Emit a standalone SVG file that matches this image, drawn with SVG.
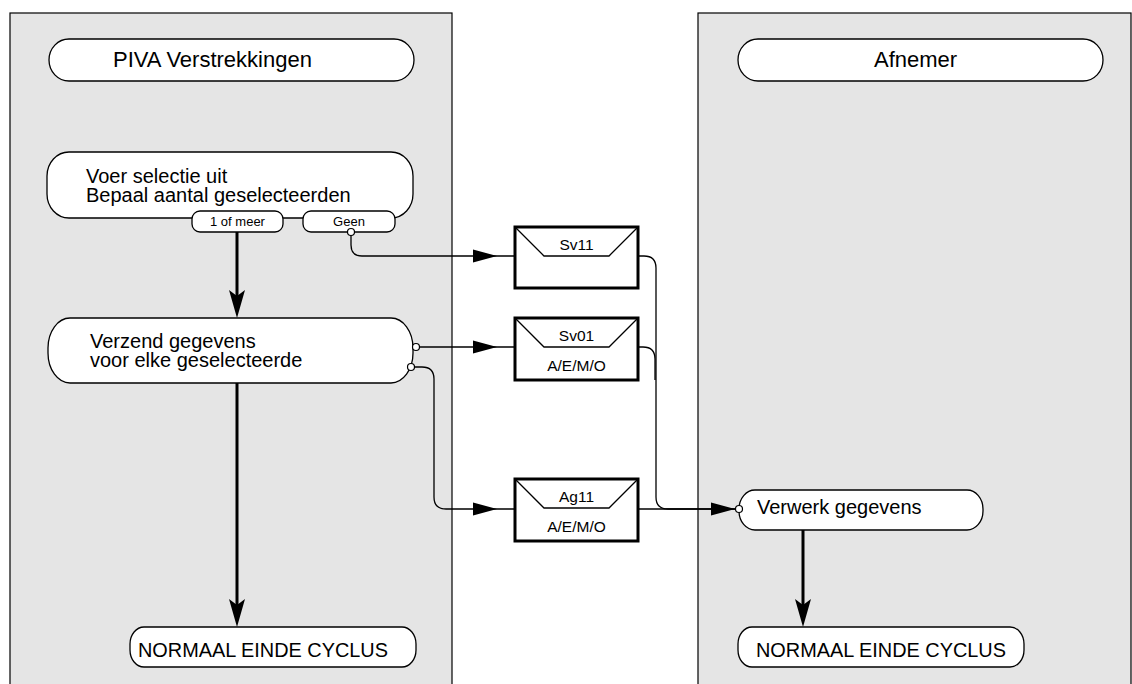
<svg xmlns="http://www.w3.org/2000/svg" xmlns:xlink="http://www.w3.org/1999/xlink" width="1132" height="684" viewBox="0 0 1132 684">
<style>
text{font-family:"Liberation Sans",Arial,sans-serif;fill:#000}
.lane{fill:#e5e5e5;stroke:#000;stroke-width:1.2}
.node{fill:#fff;stroke:#000;stroke-width:1.3}
.env{fill:#fff;stroke:#000;stroke-width:3}
.flap{fill:none;stroke:#000;stroke-width:1.3}
.msg{fill:none;stroke:#000;stroke-width:1.3}
.flow{fill:none;stroke:#000;stroke-width:3}
.port{fill:#fff;stroke:#000;stroke-width:1.2}
.t22{font-size:22px}
.t20{font-size:20px}
.t15{font-size:15.5px}
.t13{font-size:13px}
</style>
<defs>
<path id="ahR" d="M0,0 L-24,-6.5 L-24,6.5 Z" fill="#000"/>
<path id="ahD" d="M0,0 L-8,-28 L0,-22 L8,-28 Z" fill="#000"/>
</defs>
<rect class="lane" x="10" y="13" width="442" height="680"/>
<rect class="lane" x="698" y="13" width="433" height="680"/>

<g id="connectors">
<path class="flow" d="M237,232 V300"/>
<use href="#ahD" xlink:href="#ahD" x="237" y="318"/>
<path class="flow" d="M237,383 V610"/>
<use href="#ahD" xlink:href="#ahD" x="237" y="627"/>
<path class="flow" d="M803,530 V610"/>
<use href="#ahD" xlink:href="#ahD" x="803" y="627"/>
<path class="msg" d="M351,235 V245 Q351,256 362,256 H514"/>
<use href="#ahR" xlink:href="#ahR" x="497" y="256"/>
<path class="msg" d="M416,347 H514"/>
<use href="#ahR" xlink:href="#ahR" x="497" y="347"/>
<path class="msg" d="M411,367 H422 Q434,367 434,379 V497 Q434,509 446,509 H515"/>
<use href="#ahR" xlink:href="#ahR" x="497" y="509"/>
<path class="msg" d="M639,256 H644 Q656,256 656,268 V497 Q656,509 668,509 H735"/>
<path class="msg" d="M639,347 H643 Q655,347 655,359 V380"/>
<path class="msg" d="M638,509 H735"/>
<use href="#ahR" xlink:href="#ahR" x="735" y="509"/>
</g>

<g id="hdr-piva">
<rect class="node" x="49" y="39" width="365" height="42" rx="20" ry="21"/>
<text class="t22" x="113" y="67">PIVA Verstrekkingen</text>
</g>
<g id="hdr-afnemer">
<rect class="node" x="738" y="39" width="365" height="42" rx="20" ry="21"/>
<text class="t22" x="874" y="67">Afnemer</text>
</g>

<g id="n-selectie">
<rect class="node" x="47" y="152" width="366" height="66" rx="22" ry="24"/>
<text class="t20" x="86" y="183">Voer selectie uit</text>
<text class="t20" x="86" y="202">Bepaal aantal geselecteerden</text>
<rect class="node" x="192" y="211" width="91" height="21" rx="8"/>
<text class="t13" x="237.5" y="226" text-anchor="middle">1 of meer</text>
<rect class="node" x="303" y="211" width="92" height="21" rx="8"/>
<text class="t13" x="349" y="226" text-anchor="middle">Geen</text>
<circle class="port" cx="351" cy="232" r="3.5"/>
</g>

<g id="n-verzend">
<rect class="node" x="48" y="318" width="365" height="65" rx="22" ry="30"/>
<text class="t20" x="90" y="348">Verzend gegevens</text>
<text class="t20" x="90" y="367">voor elke geselecteerde</text>
<circle class="port" cx="416" cy="347" r="3.5"/>
<circle class="port" cx="411" cy="367" r="3.5"/>
</g>

<g id="n-einde-links">
<rect class="node" x="130" y="627" width="286" height="40" rx="14" ry="17"/>
<text class="t20" x="138" y="657" textLength="250" lengthAdjust="spacingAndGlyphs">NORMAAL EINDE CYCLUS</text>
</g>

<g id="env-sv11">
<rect class="env" x="515" y="227" width="123" height="61"/>
<path class="flap" d="M515,227 L544,256 H609 L638,227"/>
<text class="t15" x="576.5" y="250" text-anchor="middle">Sv11</text>
</g>
<g id="env-sv01">
<rect class="env" x="515" y="318" width="123" height="62"/>
<path class="flap" d="M515,318 L544,347 H609 L638,318"/>
<text class="t15" x="576.5" y="341" text-anchor="middle">Sv01</text>
<text class="t15" x="576.5" y="371" text-anchor="middle">A/E/M/O</text>
</g>
<g id="env-ag11">
<rect class="env" x="515" y="479" width="123" height="62"/>
<path class="flap" d="M515,479 L544,508 H609 L638,479"/>
<text class="t15" x="576.5" y="502" text-anchor="middle">Ag11</text>
<text class="t15" x="576.5" y="532" text-anchor="middle">A/E/M/O</text>
</g>

<g id="n-verwerk">
<rect class="node" x="739" y="490" width="244" height="40" rx="16" ry="19"/>
<text class="t20" x="757" y="514">Verwerk gegevens</text>
<circle class="port" cx="739" cy="509" r="3.5"/>
</g>

<g id="n-einde-rechts">
<rect class="node" x="738" y="627" width="286" height="40" rx="14" ry="17"/>
<text class="t20" x="756" y="657" textLength="250" lengthAdjust="spacingAndGlyphs">NORMAAL EINDE CYCLUS</text>
</g>
</svg>
